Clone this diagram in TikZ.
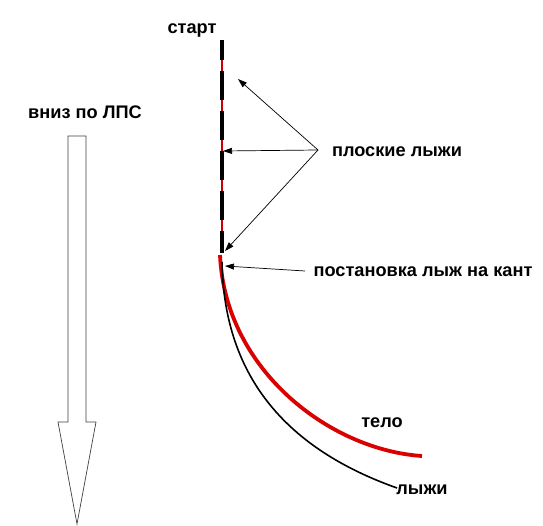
\documentclass[tikz,border=0pt]{standalone}
\usepackage{fontspec}
\setmainfont{Liberation Sans}
\usetikzlibrary{arrows.meta}
\begin{document}
\begin{tikzpicture}[x=1pt,y=-1pt,
  lbl/.style={font=\bfseries\fontsize{18.2}{21}\selectfont, inner sep=0pt, text=black},
  ptr/.style={-{Triangle[length=9pt,width=6pt]}, line width=0.7pt, black},
  bigarrow/.style={draw=black!75, line width=0.7pt, fill=white}]
\useasboundingbox (0,0) rectangle (543,526);
\fill[white] (0,0) rectangle (543,526);
% big downhill arrow
\draw[bigarrow] (68,136) -- (86,136) -- (86,422) -- (96,422) -- (77,524) -- (58,422) -- (68,422) -- cycle;
\node[lbl] (down) at (85,112) {вниз по ЛПС};
% start label and the straight run
\node[lbl] (start) at (192,30) {старт};
\coordinate (top) at (222,40);
\coordinate (bend) at (222,253);
\draw[red!80!black, line width=1.2pt] (top) -- (bend);
\draw[black, line width=3.5pt, dash pattern=on 29pt off 11pt, dash phase=9pt] (top) -- (bend);
% curves
\draw[red!85!black, line width=3.8pt] (220,255) .. controls (225,370) and (330,450) .. (422,456);
\draw[black, line width=1.6pt] (222,262) .. controls (224,380) and (290,450) .. (397,488);
% labels
\node[lbl] (flat) at (397,152) {плоские лыжи};
\node[lbl] (edge) at (423,272) {постановка лыж на кант};
\node[lbl] (body) at (382,423) {тело};
\node[lbl] (skis) at (422,490) {лыжи};
% pointers
\coordinate (fsrc) at (318,150);
\coordinate (f1) at (238,79);
\coordinate (f2) at (223,151);
\coordinate (f3) at (225,251);
\coordinate (esrc) at (305,271);
\coordinate (e1) at (225,266);
\draw[ptr] (fsrc) -- (f1);
\draw[ptr] (fsrc) -- (f2);
\draw[ptr] (fsrc) -- (f3);
\draw[ptr] (esrc) -- (e1);
\end{tikzpicture}
\end{document}
